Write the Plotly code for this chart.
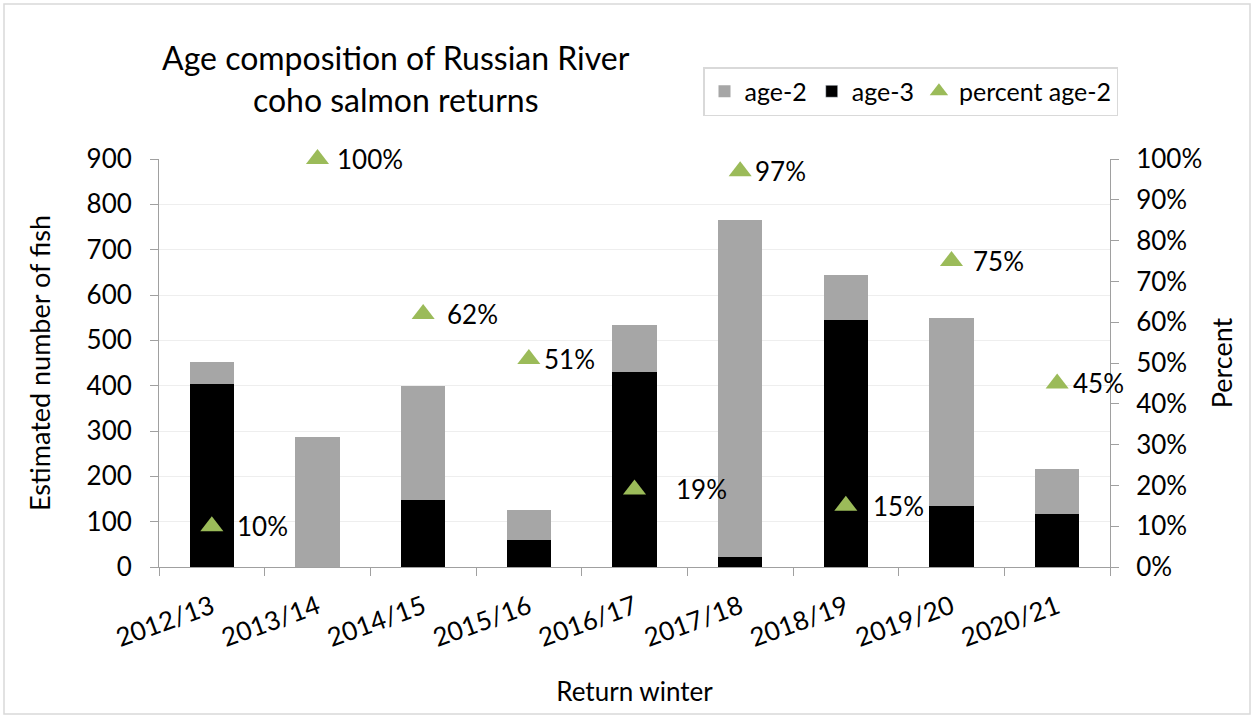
import plotly.graph_objects as go

# --- Russian River coho salmon age composition ---

seasons = ["2012/13", "2013/14", "2014/15", "2015/16", "2016/17",
           "2017/18", "2018/19", "2019/20", "2020/21"]
age3 = [404, 0, 148, 59, 430, 22, 544, 135, 116]
age2 = [48, 287, 251, 67, 104, 743, 100, 414, 100]
pct_age2 = [10, 100, 62, 51, 19, 97, 15, 75, 45]

# label offsets (px) to the right of each triangle, as placed in the original
label_shift = [25, 19, 24, 15, 41, 15, 27, 21, 16]

W, H = 1255, 719
ML, MR, MT, MB = 159, 145, 159, 152
pw, ph = W - ML - MR, H - MT - MB

font = "Lato"

fig = go.Figure()
fig.add_trace(go.Bar(x=seasons, y=age3, name="age-3", marker_color="#000000",
                     marker_line_width=0, showlegend=False))
fig.add_trace(go.Bar(x=seasons, y=age2, name="age-2", marker_color="#A6A6A6",
                     marker_line_width=0))
# dummy entry so legend order is age-2, age-3, percent
fig.add_trace(go.Bar(x=[None], y=[None], name="age-3", marker_color="#000000"))
fig.add_trace(go.Scatter(x=seasons, y=pct_age2, name="percent age-2", yaxis="y2",
                         mode="markers", cliponaxis=False,
                         marker=dict(symbol="triangle-up", size=20, color="#9BBB59")))

for s, p, dx in zip(seasons, pct_age2, label_shift):
    fig.add_annotation(x=s, y=p, yref="y2", text=f"{p}%", showarrow=False,
                       xanchor="left", yanchor="middle", xshift=dx - 2,
                       font=dict(size=26, color="#000000", family=font))

fig.add_annotation(x=(396 - ML) / pw, y=(H - MB - 36) / ph, xref="paper", yref="paper",
                   text="Age composition of Russian River<br>coho salmon returns",
                   showarrow=False, xanchor="center", yanchor="top", align="center",
                   font=dict(size=32, color="#000000", family=font))

# outer chart frame
fig.add_shape(type="rect", xref="paper", yref="paper",
              x0=(4 - ML) / pw, x1=(1250 - ML) / pw,
              y0=(H - MB - 714) / ph, y1=(H - MB - 4) / ph,
              line=dict(color="#D9D9D9", width=1.5))

fig.update_layout(
    width=W, height=H,
    margin=dict(l=ML, r=MR, t=MT, b=MB),
    paper_bgcolor="white", plot_bgcolor="white",
    barmode="stack", bargap=0.58,
    font=dict(family=font, size=26, color="#000000"),
    legend=dict(orientation="h", x=(703 - ML) / pw, y=(H - MB - 67) / ph,
                xanchor="left", yanchor="top",
                bordercolor="#D9D9D9", borderwidth=1.5,
                font=dict(size=25), traceorder="normal"),
    xaxis=dict(type="category", range=[-0.5, len(seasons) - 0.5],
               tickson="boundaries", ticks="outside", ticklen=8,
               tickcolor="#A0A0A0", showline=True, linecolor="#A0A0A0",
               tickangle=-20, ticklabelstandoff=14, automargin=False,
               title=dict(text="Return winter", standoff=30, font=dict(size=26))),
    yaxis=dict(range=[0, 900], dtick=100, ticks="outside", ticklen=8,
               tickcolor="#A0A0A0", showline=True, linecolor="#A0A0A0",
               gridcolor="#EEEEEE", zeroline=False, automargin=False,
               ticklabelstandoff=13,
               title=dict(text="Estimated number of fish", standoff=28,
                          font=dict(size=27))),
    yaxis2=dict(range=[0, 100], dtick=10, ticksuffix="%", overlaying="y", side="right",
                ticks="outside", ticklen=8, tickcolor="#A0A0A0", showline=True,
                linecolor="#A0A0A0", showgrid=False, zeroline=False, automargin=False,
                ticklabelstandoff=12,
                title=dict(text="Percent", standoff=11, font=dict(size=27))),
)

fig.write_html("out.html", config={"displayModeBar": False},
               post_script="document.body.style.margin = '0';")
